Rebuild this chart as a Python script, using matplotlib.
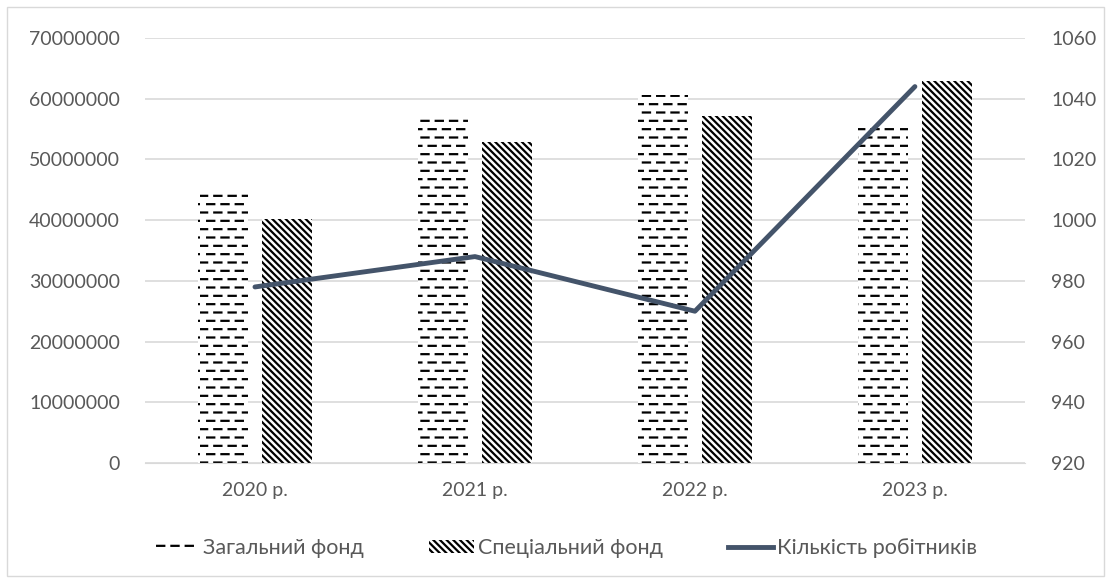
import matplotlib
matplotlib.use("Agg")
import matplotlib.pyplot as plt
import matplotlib.hatch as mhatch
from matplotlib.path import Path
import numpy as np
from matplotlib.patches import Rectangle, Patch
from matplotlib.lines import Line2D

plt.rcParams['font.family'] = ['Lato', 'DejaVu Sans']
plt.rcParams['hatch.linewidth'] = 1.6


# Excel-like "dashed horizontal" pattern: staggered short dashes
class DashedHorizontalHatch(mhatch.HatchPatternBase):
    per_row = 7

    def __init__(self, hatch, density):
        self.num_rows = int((hatch.count('-') + hatch.count('+')) * density)
        self.num_vertices = self.num_rows * self.per_row * 2

    def set_vertices_and_codes(self, vertices, codes):
        n = self.per_row
        k = 0
        for i in range(self.num_rows):
            y = (i + 0.5) / self.num_rows
            off = (i % 2) * 0.5 / n
            for j in range(n):
                x0 = off + j / n
                vertices[k] = (x0, y)
                vertices[k + 1] = (x0 + 0.5 / n, y)
                codes[k] = Path.MOVETO
                codes[k + 1] = Path.LINETO
                k += 2


mhatch._hatch_types = [DashedHorizontalHatch if t is mhatch.HorizontalHatch else t
                       for t in mhatch._hatch_types]

years = ["2020 р.", "2021 р.", "2022 р.", "2023 р."]
general_fund = [45000000, 57000000, 60600000, 55300000]
special_fund = [40200000, 52900000, 57200000, 62900000]
workers = [978, 988, 970, 1044]
left_ticks = list(range(0, 70000001, 10000000))
right_ticks = list(range(920, 1061, 20))

fig = plt.figure(figsize=(11.11, 5.83), dpi=100)
ax = fig.add_axes([0.1305, 0.2058, 0.792, 0.729])
ax2 = ax.twinx()

x = np.arange(len(years))
w = 0.227
off = 0.145
diag = '\\' * 5

ax.bar(x - off, general_fund, w, color='white', edgecolor='black', hatch='--', linewidth=0, zorder=2)
ax.bar(x + off, special_fund, w, color='white', edgecolor='black', hatch=diag, linewidth=0, zorder=2)

ax2.plot(x, workers, color='#44546A', linewidth=3.5, solid_capstyle='round', zorder=5)

ax.set_xlim(-0.5, 3.5)
ax.set_ylim(0, 70000000)
ax.set_yticks(left_ticks)
ax.set_yticklabels([str(v) for v in left_ticks])
ax2.set_ylim(920, 1060)
ax2.set_yticks(right_ticks)
ax.set_xticks(x)
ax.set_xticklabels(years)

ax.grid(axis='y', color='#D9D9D9', linewidth=1.2, zorder=0)
ax.set_axisbelow(True)
for a in (ax, ax2):
    for s in a.spines.values():
        s.set_visible(False)
    a.tick_params(length=0, labelsize=14, colors='#595959')
ax.spines['bottom'].set_visible(True)
ax.spines['bottom'].set_color('#D9D9D9')
ax.tick_params(axis='y', pad=18)
ax2.tick_params(axis='y', pad=19)
ax.tick_params(axis='x', pad=14)

h1 = Patch(facecolor='white', edgecolor='black', hatch='--', linewidth=0)
h2 = Patch(facecolor='white', edgecolor='black', hatch=diag, linewidth=0)
h3 = Line2D([0], [0], color='#44546A', linewidth=3.5)
leg = fig.legend([h1, h2, h3], ["Загальний фонд", "Спеціальний фонд", "Кількість робітників"],
                 loc='center', bbox_to_anchor=(0.509, 0.06), ncol=3, frameon=False,
                 fontsize=15.5, handlelength=2.1, handleheight=0.55, handletextpad=0.2,
                 columnspacing=3.0)
for t in leg.get_texts():
    t.set_color('#595959')

fig.patches.append(Rectangle((0.006, 0.012), 0.988, 0.976, transform=fig.transFigure,
                             fill=False, edgecolor='#D9D9D9', linewidth=1))

fig.savefig("out.png", dpi=100)
